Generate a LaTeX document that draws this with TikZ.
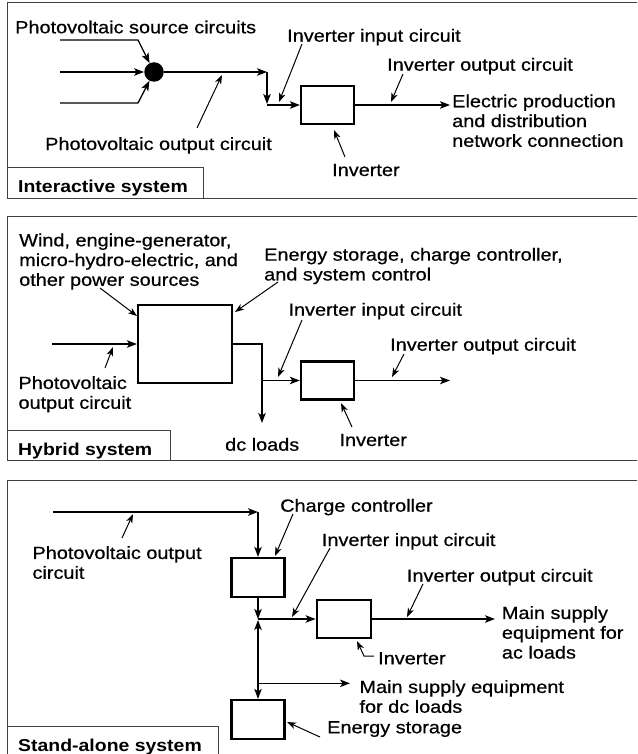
\documentclass[tikz,border=0pt]{standalone}
\usepackage{fontspec}
\setmainfont{Liberation Sans}[FakeStretch=1.13, UprightFeatures={FakeBold=0.6}]
\usetikzlibrary{arrows.meta}
\begin{document}
\begin{tikzpicture}[x=1pt,y=-1pt,
  frame/.style={draw=black!75, line width=1pt},
  unit/.style={draw=black, line width=2.3pt, minimum width=53pt, minimum height=38pt, inner sep=0pt},
  conn/.style={line width=1.3pt, -{Stealth[length=10pt,width=7.5pt,inset=2.5pt]}},
  both/.style={line width=1.3pt, {Stealth[length=10pt,width=7.5pt,inset=2.5pt]}-{Stealth[length=10pt,width=7.5pt,inset=2.5pt]}},
  lead/.style={line width=1pt, -{Stealth[length=9pt,width=6.5pt,inset=2.5pt]}},
  txt/.style={inner sep=0pt, anchor=base west, font=\fontsize{17.6}{19.8}\selectfont},
  mtxt/.style={inner sep=0pt, anchor=north west, align=left, font=\fontsize{17.6}{19.8}\selectfont},
  sys/.style={inner sep=0pt, anchor=base west, font=\fontsize{17.2}{19.8}\selectfont\bfseries}]
\clip (0,0) rectangle (637,754);
% ---------------- frames ----------------
\draw[frame] (7,3) rectangle (660,198.5);
\draw[frame] (7,168) rectangle (203,198.5);
\draw[frame] (7,216.7) rectangle (660,460);
\draw[frame] (7,430) rectangle (170.7,460);
\draw[frame] (7,480) rectangle (660,780);
\draw[frame] (7,726.7) rectangle (218.5,780);
\node[sys] (sys1) at (18,192.3) {Interactive system};
\node[sys] (sys2) at (18,455) {Hybrid system};
\node[sys] (sys3) at (18,751.7) {Stand-alone system};

% ================ Interactive system ================
\node[circle, fill=black, inner sep=0pt, minimum size=19.5pt] (dot) at (154,72) {};
\node[unit] (inv1) at (327.5,105) {};
\coordinate (s1a) at (60,40);   \coordinate (s1b) at (138,40);
\coordinate (s2a) at (60,72);
\coordinate (s3a) at (60,103);  \coordinate (s3b) at (138,103);
\coordinate (j1) at (267,72);   \coordinate (j2) at (267,104);
\coordinate (j3) at (267,105);  \coordinate (o1) at (450,105);
\draw[conn] (s1a) -- (s1b) -- (dot);
\draw[conn] (s2a) -- (dot);
\draw[conn] (s3a) -- (s3b) -- (dot);
\draw[conn] (dot) -- (j1);
\draw[conn] (j1) -- (j2);
\draw[conn] (j3) -- (inv1);
\draw[conn] (inv1) -- (o1);

\node[txt] (t1a) at (15,33.3) {Photovoltaic source circuits};
\node[txt] (t1b) at (287,41.7) {Inverter input circuit};
\node[txt] (t1c) at (387,70.7) {Inverter output circuit};
\node[mtxt] (t1d) at (452,94.3) {Electric production\\and distribution\\network connection};
\node[txt] (t1e) at (332,176) {Inverter};
\node[txt] (t1f) at (45,150) {Photovoltaic output circuit};
\coordinate (a1b) at (279,102); \coordinate (a1c) at (391,102);
\coordinate (a1e) at (334,130); \coordinate (a1f) at (222,75);
\draw[lead] (302,44) -- (a1b);
\draw[lead] (403,74) -- (a1c);
\draw[lead] (345,157) -- (a1e);
\draw[lead] (197,128) -- (a1f);

% ================ Hybrid system ================
\node[draw=black, line width=2.3pt, minimum width=94pt, minimum height=78pt, inner sep=0pt] (hyb) at (185,344) {};
\node[unit] (inv2) at (327.5,380.5) {};
\coordinate (p2) at (52,344);
\coordinate (k1) at (262,344); \coordinate (k2) at (262,423);
\coordinate (k3) at (262,380.5); \coordinate (o2) at (450,380.5);
\draw[conn] (p2) -- (hyb);
\draw[conn] (hyb.east |- k1) -- (k1) -- (k2);
\draw[conn] (k3) -- (inv2);
\draw[conn] (inv2) -- (o2);

\node[mtxt] (t2a) at (19,233.3) {Wind, engine-generator,\\micro-hydro-electric, and\\other power sources};
\node[mtxt] (t2b) at (264,247.7) {Energy storage, charge controller,\\and system control};
\node[txt] (t2c) at (288.3,315.7) {Inverter input circuit};
\node[txt] (t2d) at (390,350.7) {Inverter output circuit};
\node[txt] (t2e) at (339.3,446) {Inverter};
\node[txt] (t2f) at (225,450.7) {dc loads};
\node[mtxt] (t2g) at (18.3,376) {Photovoltaic\\output circuit};
\coordinate (a2a) at (137,316); \coordinate (a2b) at (235,312);
\coordinate (a2c) at (278,377); \coordinate (a2d) at (392,377);
\coordinate (a2e) at (341,403); \coordinate (a2g) at (113,347);
\draw[lead] (100,288) -- (a2a);
\draw[lead] (278,282) -- (a2b);
\draw[lead] (302,320) -- (a2c);
\draw[lead] (404,354) -- (a2d);
\draw[lead] (352,427) -- (a2e);
\draw[lead] (105,368) -- (a2g);

% ================ Stand-alone system ================
\node[unit, minimum height=39pt] (cc) at (258,577.5) {};
\node[unit, minimum width=54pt] (inv3) at (343.7,619) {};
\node[unit, minimum height=39pt] (es) at (258,719.5) {};
\coordinate (q1) at (53,512); \coordinate (q2) at (258,512);
\coordinate (m1) at (258,619); \coordinate (m2) at (258,619);
\coordinate (m3) at (258,620); \coordinate (m4) at (258,683.3);
\coordinate (d1) at (350,683.3); \coordinate (o3) at (495,619);
\draw[conn] (q1) -- (q2);
\draw[conn] (q2) -- (cc);
\draw[conn] (cc) -- (m1);
\draw[conn] (m2) -- (inv3);
\draw[both] (m3) -- (es);
\draw[conn] (m4) -- (d1);
\draw[conn] (inv3) -- (o3);

\node[mtxt] (t3a) at (32.3,546) {Photovoltaic output\\circuit};
\node[txt] (t3b) at (280,511.7) {Charge controller};
\node[txt] (t3c) at (321.7,546) {Inverter input circuit};
\node[txt] (t3d) at (406.7,581.7) {Inverter output circuit};
\node[mtxt] (t3e) at (501.7,606) {Main supply\\equipment for\\ac loads};
\node[txt] (t3f) at (378,664.3) {Inverter};
\node[mtxt] (t3g) at (359.3,680) {Main supply equipment\\for dc loads};
\node[txt] (t3h) at (327,733.3) {Energy storage};
\coordinate (a3a) at (133,514); \coordinate (a3b) at (275,556);
\coordinate (a3c) at (292,617); \coordinate (a3d) at (407,617);
\coordinate (a3f) at (357,641); \coordinate (a3h) at (287,722);
\draw[lead] (122,538) -- (a3a);
\draw[lead] (293,514) -- (a3b);
\draw[lead] (330,548) -- (a3c);
\draw[lead] (423,584) -- (a3d);
\draw[lead] (374,656) -- (364,656) -- (a3f);
\draw[lead] (320,737) -- (a3h);
\end{tikzpicture}
\end{document}
